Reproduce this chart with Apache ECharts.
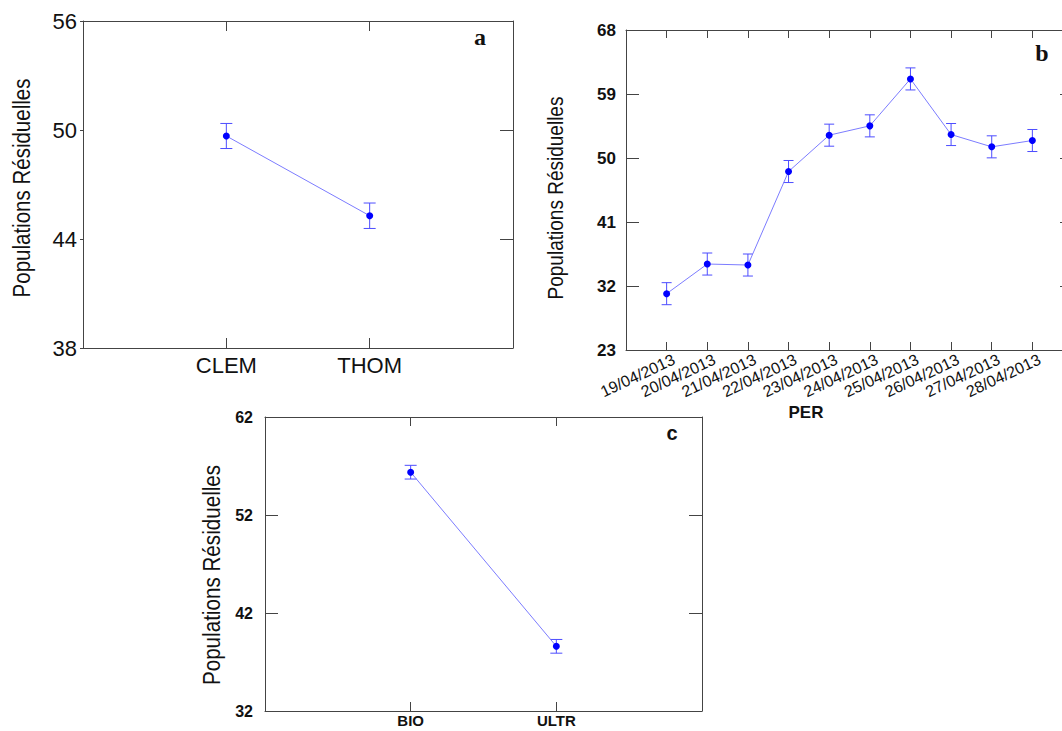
<!DOCTYPE html>
<html>
<head>
<meta charset="utf-8">
<script src="https://cdn.jsdelivr.net/npm/echarts@6/dist/echarts.min.js"></script>
<style>html,body{margin:0;padding:0;background:#fff;}#c{width:1062px;height:731px;}</style>
</head>
<body>
<div id="c"></div>
<script>
// ---- data ----
const catsA = ['CLEM', 'THOM'];
const meanA = [49.67, 45.28];
const errA = [0.69, 0.70];
const ticksA = { min: 38, max: 56, interval: 6 };

const catsB = ['19/04/2013', '20/04/2013', '21/04/2013', '22/04/2013', '23/04/2013',
  '24/04/2013', '25/04/2013', '26/04/2013', '27/04/2013', '28/04/2013'];
const meanB = [30.92, 35.09, 34.95, 48.10, 53.21, 54.52, 61.12, 53.30, 51.57, 52.46];
const errB = [1.55, 1.55, 1.55, 1.55, 1.55, 1.55, 1.55, 1.55, 1.55, 1.55];
const ticksB = { min: 23, max: 68, interval: 9 };

const catsC = ['BIO', 'ULTR'];
const meanC = [56.37, 38.60];
const errC = [0.70, 0.70];
const ticksC = { min: 32, max: 62, interval: 10 };

const yTitle = 'Populations Résiduelles';
const xTitleB = 'PER';

// ---- styles ----
const AX = '#444';
const LINE = '#7c7cff';
const DOT = '#0000ff';
const ERR = '#4d4dff';

function xAxes(grid, cats, labelStyle, tickLen) {
  const n = cats.length + 1;
  const base = {
    gridIndex: grid, type: 'value', min: 0, max: n, interval: 1,
    splitLine: { show: false },
    axisLine: { show: true, onZero: false, lineStyle: { color: AX, width: 1 } },
    axisTick: { show: true, inside: true, length: tickLen, lineStyle: { color: AX } }
  };
  return [
    Object.assign({}, base, {
      position: 'bottom',
      axisLabel: Object.assign({
        formatter: v => cats[v - 1] || '', color: '#111', showMinLabel: true, showMaxLabel: true
      }, labelStyle)
    }),
    Object.assign({}, base, { position: 'top', axisLabel: { show: false } })
  ];
}
function yAxes(grid, t, labelStyle, leftTick, rightTick) {
  const base = {
    gridIndex: grid, type: 'value', min: t.min, max: t.max, interval: t.interval,
    splitLine: { show: false },
    axisLine: { show: true, onZero: false, lineStyle: { color: AX, width: 1 } }
  };
  return [
    Object.assign({}, base, {
      position: 'left',
      axisTick: Object.assign({ show: true, lineStyle: { color: AX } }, leftTick),
      axisLabel: Object.assign({ color: '#111' }, labelStyle)
    }),
    Object.assign({}, base, {
      position: 'right',
      axisTick: Object.assign({ show: true, lineStyle: { color: AX } }, rightTick),
      axisLabel: { show: false }
    })
  ];
}
function lineSeries(ax, means) {
  return {
    type: 'line', xAxisIndex: ax, yAxisIndex: ax, z: 3,
    data: means.map((m, i) => [i + 1, m]),
    symbol: 'circle', symbolSize: 7, showSymbol: true,
    lineStyle: { color: LINE, width: 1 },
    itemStyle: { color: DOT },
    emphasis: { disabled: true }, silent: true
  };
}
function errSeries(ax, means, errs, cap) {
  return {
    type: 'custom', xAxisIndex: ax, yAxisIndex: ax, z: 2, silent: true,
    data: means.map((m, i) => [i + 1, m - errs[i], m + errs[i]]),
    renderItem: function (params, api) {
      const lo = api.coord([api.value(0), api.value(1)]);
      const hi = api.coord([api.value(0), api.value(2)]);
      const st = { stroke: ERR, lineWidth: 1 };
      return {
        type: 'group', children: [
          { type: 'line', shape: { x1: lo[0], y1: lo[1], x2: hi[0], y2: hi[1] }, style: st },
          { type: 'line', shape: { x1: lo[0] - cap, y1: lo[1], x2: lo[0] + cap, y2: lo[1] }, style: st },
          { type: 'line', shape: { x1: hi[0] - cap, y1: hi[1], x2: hi[0] + cap, y2: hi[1] }, style: st }
        ]
      };
    }
  };
}

const FONT = "'Liberation Sans', Arial, sans-serif";

const xa = xAxes(0, catsA, { fontSize: 22, fontFamily: FONT, margin: 6 }, 10);
const xb = xAxes(1, catsB, { fontSize: 16, fontFamily: FONT, rotate: 25, margin: 12, padding: [0, -8, 0, 0] }, 8);
const xc = xAxes(2, catsC, { fontSize: 15, fontWeight: 'bold', fontFamily: FONT, margin: 2, lineHeight: 15 }, 9);
const ya = yAxes(0, ticksA, { fontSize: 22, fontFamily: FONT, margin: 6 },
  { inside: false, length: 3 }, { inside: true, length: 13 });
const yb = yAxes(1, ticksB, { fontSize: 17, fontWeight: 'bold', fontFamily: FONT, margin: 10 },
  { inside: true, length: 13 }, { inside: true, length: 13 });
const yc = yAxes(2, ticksC, { fontSize: 16, fontWeight: 'bold', fontFamily: FONT, margin: 12 },
  { inside: true, length: 13 }, { inside: true, length: 13 });

function yTitleText(x, y, size, sx) {
  return { type: 'text', x: x, y: y, rotation: Math.PI / 2, scaleX: sx, scaleY: 1,
    style: { text: yTitle, font: size + 'px ' + FONT, fill: '#111', align: 'center', verticalAlign: 'middle' } };
}

const chart = echarts.init(document.getElementById('c'), null, { renderer: 'svg' });
chart.setOption({
  animation: false,
  backgroundColor: '#fff',
  grid: [
    { left: 83, top: 21, width: 430, height: 327, outerBoundsMode: 'none' },
    { left: 626, top: 30, width: 447, height: 320, outerBoundsMode: 'none' },
    { left: 265, top: 417, width: 437, height: 294, outerBoundsMode: 'none' }
  ],
  xAxis: [xa[0], xa[1], xb[0], xb[1], xc[0], xc[1]],
  yAxis: [ya[0], ya[1], yb[0], yb[1], yc[0], yc[1]],
  series: [
    errSeries(0, meanA, errA, 6), lineSeries(0, meanA),
    errSeries(2, meanB, errB, 5), lineSeries(2, meanB),
    errSeries(4, meanC, errC, 6), lineSeries(4, meanC)
  ],
  graphic: [
    yTitleText(22, 188, 24, 0.855),
    yTitleText(555, 198, 22, 0.865),
    yTitleText(212, 575, 24, 0.86),
    { type: 'text', x: 806, y: 412,
      style: { text: xTitleB, font: 'bold 17px ' + FONT, fill: '#111', align: 'center', verticalAlign: 'middle' } },
    { type: 'text', x: 480, y: 37,
      style: { text: 'a', font: 'bold 24px "Liberation Serif", "DejaVu Serif", serif', fill: '#111', align: 'center', verticalAlign: 'middle' } },
    { type: 'text', x: 1042, y: 53,
      style: { text: 'b', font: 'bold 24px "Liberation Serif", "DejaVu Serif", serif', fill: '#111', align: 'center', verticalAlign: 'middle' } },
    { type: 'text', x: 672, y: 433,
      style: { text: 'c', font: 'bold 20px ' + FONT, fill: '#111', align: 'center', verticalAlign: 'middle' } }
  ]
});
</script>
</body>
</html>
